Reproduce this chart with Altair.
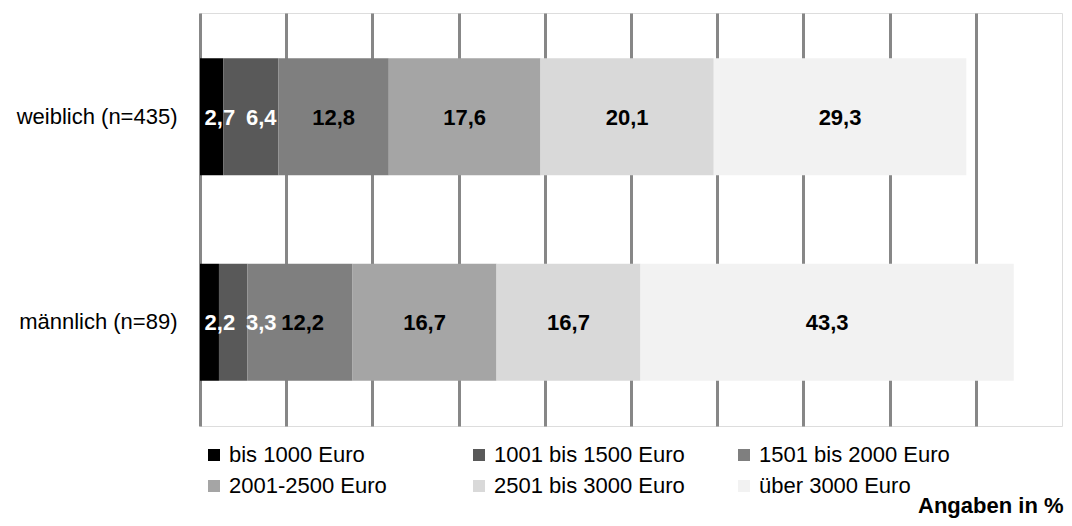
import altair as alt
import pandas as pd

# ---- data ----
groups = ["weiblich (n=435)", "männlich (n=89)"]
segments = ["bis 1000 Euro", "1001 bis 1500 Euro", "1501 bis 2000 Euro",
            "2001-2500 Euro", "2501 bis 3000 Euro", "über 3000 Euro"]
weiblich = [2.7, 6.4, 12.8, 17.6, 20.1, 29.3]
maennlich = [2.2, 3.3, 12.2, 16.7, 16.7, 43.3]
colors = ["#000000", "#595959", "#7f7f7f", "#a5a5a5", "#d9d9d9", "#f2f2f2"]
label_colors = ["#ffffff", "#ffffff", "#000000", "#000000", "#000000", "#000000"]

FONT = "Liberation Sans"

rows = []
for g, vals in zip(groups, [weiblich, maennlich]):
    start = 0.0
    prev_lab = None
    for i, (s, v) in enumerate(zip(segments, vals)):
        mid = start + v / 2
        # simple label layout: keep labels from colliding (as the original does)
        lab = max(mid, start + 2.3) if prev_lab is None else max(mid, prev_lab + 4.8)
        prev_lab = lab
        rows.append({"gruppe": g, "segment": s, "idx": i, "wert": v,
                     "label": f"{v:.1f}".replace(".", ","),
                     "labx": lab, "tc": label_colors[i]})
        start += v
df = pd.DataFrame(rows)

base = alt.Chart(df)

y_enc = alt.Y("gruppe:N", sort=groups,
              scale=alt.Scale(paddingInner=0.43, paddingOuter=0.22),
              axis=alt.Axis(title=None, ticks=False, domain=False,
                            labelFont=FONT, labelFontSize=22, labelColor="#000000",
                            labelPadding=23, labelLimit=0))

bars = base.mark_bar(strokeWidth=0).encode(
    x=alt.X("sum(wert):Q", stack="zero",
            scale=alt.Scale(domain=[0, 100], nice=False),
            axis=alt.Axis(values=list(range(0, 100, 10)), labels=False, ticks=False,
                          domain=False, grid=True, gridColor="#878787", gridWidth=3,
                          gridOpacity=1, title="Angaben in %", titleFont=FONT,
                          titleFontSize=22, titleFontWeight="bold", titleColor="#000000",
                          titleAlign="right", titleAnchor="end", titleBaseline="middle",
                          titleX=863, titleY=79)),
    y=y_enc,
    color=alt.Color("segment:N", scale=alt.Scale(domain=segments, range=colors),
                    legend=alt.Legend(title=None, orient="none", legendX=3, legendY=431,
                                      direction="horizontal",
                                      columns=3, gridAlign="all", symbolType="square",
                                      symbolSize=144, symbolStrokeWidth=0,
                                      labelFont=FONT, labelFontSize=22,
                                      labelColor="#000000", labelLimit=0,
                                      labelOffset=4, columnPadding=48, rowPadding=9,
                                      padding=0)),
    order=alt.Order("idx:Q", sort="ascending"),
)

labels = base.mark_text(font=FONT, fontSize=22, fontWeight="bold",
                        baseline="middle", align="center", dy=1).encode(
    x=alt.X("labx:Q"),
    y=alt.Y("gruppe:N", sort=groups),
    text="label:N",
    color=alt.Color("tc:N", scale=None),
)

chart = alt.layer(bars, labels).properties(
    width=862, height=413,
    autosize=alt.AutoSizeParams(type="none"),
    padding={"left": 192, "top": 5, "right": 2, "bottom": 92},
).configure_view(stroke="#c0c0c0", strokeWidth=3).configure(background="#ffffff")

chart.save("out.html", embed_options={"renderer": "svg", "actions": False})
